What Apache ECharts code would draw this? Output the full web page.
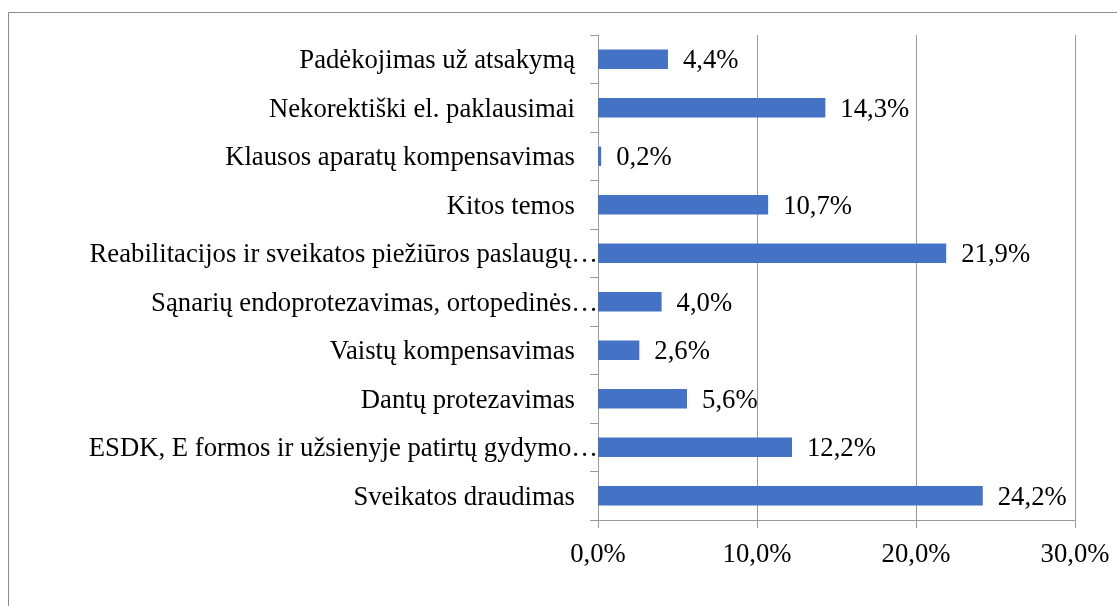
<!DOCTYPE html>
<html>
<head>
<meta charset="utf-8">
<script src="https://cdn.jsdelivr.net/npm/echarts@6/dist/echarts.min.js"></script>
<style>
    html, body { margin: 0; padding: 0; background: #fff; }
    #main { width: 1117px; height: 606px; }
</style>
</head>
<body>
<div id="main"></div>
<script>
// temos (iš apačios į viršų, kaip ašyje)
var temos = [
    "Sveikatos draudimas",
    "ESDK, E formos ir užsienyje patirtų gydymo…",
    "Dantų protezavimas",
    "Vaistų kompensavimas",
    "Sąnarių endoprotezavimas, ortopedinės…",
    "Reabilitacijos ir sveikatos piežiūros paslaugų…",
    "Kitos temos",
    "Klausos aparatų kompensavimas",
    "Nekorektiški el. paklausimai",
    "Padėkojimas už atsakymą"
];
// dalis, %
var dalys = [24.2, 12.2, 5.6, 2.6, 4.0, 21.9, 10.7, 0.2, 14.3, 4.4];
// x ašies padalos
var xMin = 0;
var xMax = 30;
var xStep = 10;

(function() {
    var serif = "'Liberation Serif', 'Times New Roman', serif";
    var gray = "#9a9a9a";
    var fs = 26.7;

    function pct(v) {
        return v.toFixed(1).replace(".", ",") + "%";
    }

    var myChart = echarts.init(document.getElementById("main"));
    var option = {
        animation: false,
        backgroundColor: "#fff",
        // rėmelis aplink diagramą
        graphic: [{
            type: "rect",
            silent: true,
            z: -1,
            shape: { x: 8.5, y: 12.5, width: 1300, height: 800 },
            style: { fill: "none", stroke: "#8c8c8c", lineWidth: 1 }
        }],
        grid: {
            left: 598,
            right: 42,
            top: 35,
            bottom: 86,
            containLabel: false,
            outerBoundsMode: "none"
        },
        xAxis: {
            type: "value",
            min: xMin,
            max: xMax,
            interval: xStep,
            axisLine: { show: true, lineStyle: { color: gray } },
            axisTick: { show: true, length: 8, lineStyle: { color: gray } },
            splitLine: { show: true, lineStyle: { color: gray } },
            axisLabel: {
                margin: 21,
                color: "#000",
                fontFamily: serif,
                fontSize: fs,
                formatter: function(v) { return pct(v); }
            }
        },
        yAxis: {
            type: "category",
            data: temos,
            axisLine: { show: true, lineStyle: { color: gray } },
            axisTick: { show: true, length: 8, lineStyle: { color: gray } },
            splitLine: { show: false },
            axisLabel: {
                margin: 0,
                color: "#000",
                fontFamily: serif,
                fontSize: fs,
                // sutrumpinti pavadinimai liečia ašį, kiti – su tarpu
                formatter: function(v) {
                    return v.slice(-1) === "…" ? "{e|" + v + "}" : "{n|" + v + "}";
                },
                rich: {
                    n: { fontFamily: serif, fontSize: fs, color: "#000", padding: [4, 23, 0, 0] },
                    e: { fontFamily: serif, fontSize: fs, color: "#000", padding: [4, 0, 0, 0] }
                }
            }
        },
        series: [{
            type: "bar",
            data: dalys,
            barWidth: "40%",
            itemStyle: { color: "#4472c4" },
            label: {
                show: true,
                position: "right",
                distance: 15,
                offset: [0, 2],
                color: "#000",
                fontFamily: serif,
                fontSize: fs,
                formatter: function(p) { return pct(p.value); }
            }
        }]
    };
    myChart.setOption(option);
})();
</script>
</body>
</html>
